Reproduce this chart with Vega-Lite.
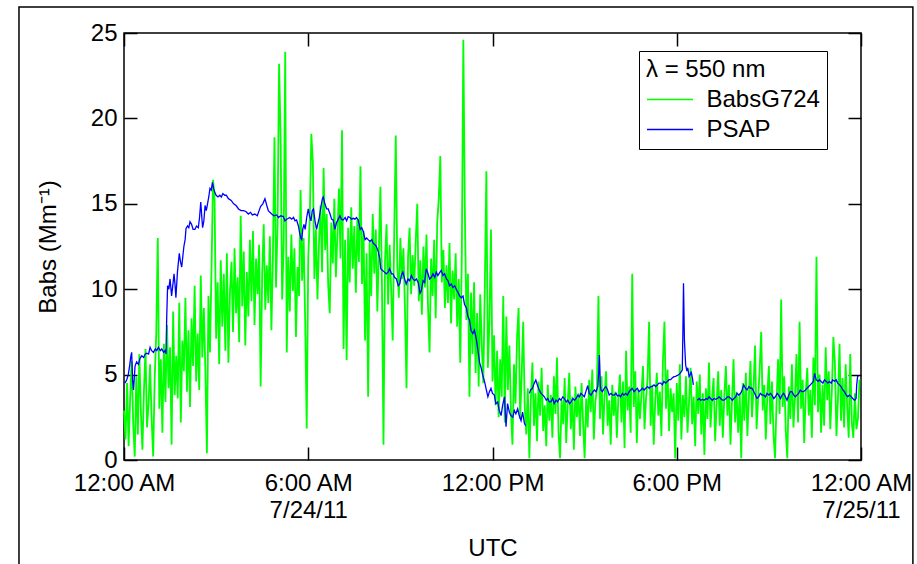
{
"$schema": "https://vega.github.io/schema/vega-lite/v6.json",
"width": 737, "height": 427,
"autosize": {"type": "none"},
"padding": {"left": 124, "top": 33, "right": 56, "bottom": 104},
"background": "white",
"config": {"font": "Liberation Sans", "view": {"stroke": "black", "strokeWidth": 1.5},
  "axis": {"grid": false, "domain": false, "tickColor": "black", "tickWidth": 1.5, "labelColor": "black", "titleColor": "black", "labelFontSize": 24, "titleFontSize": 24, "titleFontWeight": "normal", "labelFlush": false, "labelOverlap": false, "labelBound": false}},
"datasets": {
"green": [
{"h":0.00,"v":2.9},{"h":0.05,"v":1.2},{"h":0.10,"v":4.5},{"h":0.15,"v":0.8},{"h":0.20,"v":3.6},{"h":0.25,"v":5.8},{"h":0.30,"v":2.1},{"h":0.35,"v":0.2},{"h":0.40,"v":4.9},{"h":0.45,"v":1.5},
{"h":0.50,"v":6.2},{"h":0.55,"v":2.8},{"h":0.60,"v":0.6},{"h":0.65,"v":4.1},{"h":0.70,"v":6.5},{"h":0.75,"v":1.9},{"h":0.80,"v":3.3},{"h":0.85,"v":5.6},{"h":0.90,"v":2.4},{"h":0.95,"v":0.2},{"h":1.00,"v":4.8},{"h":1.05,"v":7.4},{"h":1.10,"v":13.0},{"h":1.15,"v":3.0},{"h":1.20,"v":5.9},{"h":1.25,"v":1.6},{"h":1.30,"v":6.8},{"h":1.35,"v":3.4},
{"h":1.40,"v":7.9},{"h":1.45,"v":4.2},{"h":1.50,"v":6.6},{"h":1.55,"v":0.9},{"h":1.60,"v":8.7},{"h":1.65,"v":3.8},{"h":1.70,"v":6.1},{"h":1.75,"v":3.6},{"h":1.80,"v":9.2},{"h":1.85,"v":2.2},{"h":1.90,"v":7.0},{"h":1.95,"v":5.2},{"h":2.00,"v":9.5},{"h":2.05,"v":4.0},{"h":2.10,"v":7.6},{"h":2.15,"v":3.1},{"h":2.20,"v":8.3},{"h":2.25,"v":5.5},{"h":2.30,"v":10.2},{"h":2.35,"v":4.6},
{"h":2.40,"v":7.4},{"h":2.45,"v":4.1},{"h":2.50,"v":10.8},{"h":2.55,"v":6.0},{"h":2.60,"v":8.9},{"h":2.65,"v":5.2},{"h":2.70,"v":0.4},{"h":2.75,"v":9.6},{"h":2.80,"v":6.3},{"h":2.85,"v":11.3},{"h":2.90,"v":16.4},{"h":2.95,"v":15.2},{"h":3.00,"v":7.1},{"h":3.05,"v":10.4},{"h":3.10,"v":5.6},{"h":3.15,"v":11.7},
{"h":3.20,"v":7.8},{"h":3.25,"v":10.9},{"h":3.30,"v":6.4},{"h":3.35,"v":12.1},{"h":3.40,"v":5.7},{"h":3.45,"v":9.8},{"h":3.50,"v":11.6},{"h":3.55,"v":7.5},{"h":3.60,"v":12.4},{"h":3.65,"v":8.6},{"h":3.70,"v":10.7},{"h":3.75,"v":6.9},{"h":3.80,"v":14.3},{"h":3.85,"v":9.0},{"h":3.90,"v":12.2},{"h":3.95,"v":6.7},
{"h":4.00,"v":11.0},{"h":4.05,"v":8.4},{"h":4.10,"v":12.9},{"h":4.15,"v":9.3},{"h":4.20,"v":13.4},{"h":4.25,"v":7.9},{"h":4.30,"v":11.8},{"h":4.35,"v":9.7},{"h":4.40,"v":12.6},{"h":4.45,"v":4.3},{"h":4.50,"v":10.9},{"h":4.55,"v":13.8},{"h":4.60,"v":8.8},{"h":4.65,"v":11.4},{"h":4.70,"v":9.2},{"h":4.75,"v":13.1},{"h":4.80,"v":7.6},{"h":4.85,"v":12.0},{"h":4.90,"v":18.9},{"h":4.95,"v":10.1},
{"h":5.00,"v":13.6},{"h":5.05,"v":23.2},{"h":5.10,"v":18.9},{"h":5.15,"v":9.4},{"h":5.20,"v":12.8},{"h":5.25,"v":23.9},{"h":5.30,"v":6.3},{"h":5.35,"v":11.9},{"h":5.40,"v":8.7},{"h":5.45,"v":13.2},{"h":5.50,"v":9.9},{"h":5.55,"v":12.4},{"h":5.60,"v":7.2},{"h":5.65,"v":11.3},{"h":5.70,"v":9.6},{"h":5.75,"v":15.8},{"h":5.80,"v":10.5},{"h":5.85,"v":13.0},{"h":5.90,"v":8.1},{"h":5.95,"v":1.85},
{"h":6.00,"v":11.8},{"h":6.05,"v":14.2},{"h":6.10,"v":19.1},{"h":6.15,"v":17.4},{"h":6.20,"v":10.6},{"h":6.25,"v":13.5},{"h":6.30,"v":9.4},{"h":6.35,"v":12.7},{"h":6.40,"v":14.9},{"h":6.45,"v":11.0},{"h":6.50,"v":17.1},{"h":6.55,"v":12.3},{"h":6.60,"v":14.4},{"h":6.65,"v":10.2},{"h":6.70,"v":8.6},{"h":6.75,"v":13.9},{"h":6.80,"v":11.5},{"h":6.85,"v":15.3},{"h":6.90,"v":10.7},{"h":6.95,"v":13.2},
{"h":7.00,"v":15.9},{"h":7.05,"v":11.8},{"h":7.10,"v":19.3},{"h":7.15,"v":6.5},{"h":7.20,"v":12.9},{"h":7.25,"v":5.85},{"h":7.30,"v":13.6},{"h":7.35,"v":10.4},{"h":7.40,"v":14.8},{"h":7.45,"v":11.2},{"h":7.50,"v":13.7},{"h":7.55,"v":9.8},{"h":7.60,"v":14.1},{"h":7.65,"v":11.6},{"h":7.70,"v":17.2},{"h":7.75,"v":10.3},{"h":7.80,"v":13.4},{"h":7.85,"v":7.0},{"h":7.90,"v":12.1},{"h":7.95,"v":3.7},
{"h":8.00,"v":12.8},{"h":8.05,"v":9.6},{"h":8.10,"v":14.4},{"h":8.15,"v":10.9},{"h":8.20,"v":13.5},{"h":8.25,"v":8.7},{"h":8.30,"v":12.2},{"h":8.35,"v":16.0},{"h":8.40,"v":10.3},{"h":8.45,"v":0.9},{"h":8.50,"v":11.7},{"h":8.55,"v":13.8},{"h":8.60,"v":9.1},{"h":8.65,"v":12.6},{"h":8.70,"v":10.0},{"h":8.75,"v":7.0},{"h":8.80,"v":13.3},{"h":8.85,"v":19.0},{"h":8.90,"v":11.4},{"h":8.95,"v":9.5},
{"h":9.00,"v":13.0},{"h":9.05,"v":10.6},{"h":9.10,"v":12.4},{"h":9.15,"v":8.8},{"h":9.20,"v":4.2},{"h":9.25,"v":11.9},{"h":9.30,"v":13.6},{"h":9.35,"v":9.7},{"h":9.40,"v":12.0},{"h":9.45,"v":10.2},
{"h":9.50,"v":12.8},{"h":9.55,"v":15.0},{"h":9.60,"v":9.3},{"h":9.65,"v":11.7},{"h":9.70,"v":8.5},{"h":9.75,"v":12.5},{"h":9.80,"v":10.1},{"h":9.85,"v":13.2},{"h":9.90,"v":9.0},{"h":9.95,"v":6.3},{"h":10.00,"v":11.8},{"h":10.05,"v":9.6},{"h":10.10,"v":12.9},{"h":10.15,"v":8.3},{"h":10.20,"v":13.9},{"h":10.25,"v":15.3},{"h":10.30,"v":17.8},{"h":10.35,"v":10.4},{"h":10.40,"v":12.3},{"h":10.45,"v":8.9},{"h":10.50,"v":11.4},{"h":10.55,"v":9.2},{"h":10.60,"v":12.7},{"h":10.65,"v":8.0},{"h":10.70,"v":11.1},{"h":10.75,"v":9.4},
{"h":10.80,"v":12.1},{"h":10.85,"v":7.8},{"h":10.90,"v":10.6},{"h":10.95,"v":5.7},{"h":11.00,"v":11.9},{"h":11.05,"v":24.6},{"h":11.10,"v":14.5},{"h":11.15,"v":8.2},{"h":11.20,"v":10.9},{"h":11.25,"v":3.7},
{"h":11.30,"v":9.8},{"h":11.35,"v":6.2},{"h":11.40,"v":10.4},{"h":11.45,"v":5.1},{"h":11.50,"v":8.6},{"h":11.55,"v":4.3},{"h":11.60,"v":9.7},{"h":11.65,"v":6.8},{"h":11.70,"v":4.5},{"h":11.75,"v":10.2},{"h":11.80,"v":16.9},{"h":11.85,"v":5.4},{"h":11.90,"v":8.1},{"h":11.95,"v":13.5},
{"h":12.00,"v":4.6},{"h":12.05,"v":7.3},{"h":12.10,"v":3.2},{"h":12.15,"v":6.4},{"h":12.20,"v":2.5},{"h":12.25,"v":5.9},{"h":12.30,"v":3.7},{"h":12.35,"v":9.6},{"h":12.40,"v":2.2},{"h":12.45,"v":8.4},{"h":12.50,"v":4.1},{"h":12.55,"v":6.7},{"h":12.60,"v":2.9},{"h":12.65,"v":0.9},{"h":12.70,"v":5.6},{"h":12.75,"v":3.3},{"h":12.80,"v":7.2},{"h":12.85,"v":8.9},{"h":12.90,"v":2.4},{"h":12.95,"v":5.0},{"h":13.00,"v":8.1},{"h":13.05,"v":3.1},
{"h":13.10,"v":1.5},{"h":13.15,"v":4.2},{"h":13.20,"v":0.1},{"h":13.25,"v":3.6},{"h":13.30,"v":5.7},{"h":13.35,"v":2.0},{"h":13.40,"v":3.9},{"h":13.45,"v":1.1},{"h":13.50,"v":4.6},{"h":13.55,"v":2.6},{"h":13.60,"v":5.4},{"h":13.65,"v":1.7},{"h":13.70,"v":3.2},{"h":13.75,"v":0.8},{"h":13.80,"v":4.4},{"h":13.85,"v":2.3},{"h":13.90,"v":3.8},{"h":13.95,"v":1.3},
{"h":14.00,"v":4.9},{"h":14.05,"v":2.7},{"h":14.10,"v":6.0},{"h":14.15,"v":1.6},{"h":14.20,"v":0.1},{"h":14.25,"v":3.5},{"h":14.30,"v":2.1},{"h":14.35,"v":4.8},{"h":14.40,"v":1.0},{"h":14.45,"v":3.3},{"h":14.50,"v":5.1},{"h":14.55,"v":1.8},{"h":14.60,"v":3.7},{"h":14.65,"v":0.6},{"h":14.70,"v":4.3},{"h":14.75,"v":2.5},{"h":14.80,"v":3.9},{"h":14.85,"v":1.4},{"h":14.90,"v":4.5},{"h":14.95,"v":2.2},
{"h":15.00,"v":0.1},{"h":15.05,"v":3.6},{"h":15.10,"v":1.9},{"h":15.15,"v":4.7},{"h":15.20,"v":2.8},{"h":15.25,"v":5.3},{"h":15.30,"v":1.2},{"h":15.35,"v":3.4},{"h":15.40,"v":4.1},{"h":15.45,"v":9.6},{"h":15.50,"v":2.4},{"h":15.55,"v":4.9},{"h":15.60,"v":1.5},{"h":15.65,"v":3.8},{"h":15.70,"v":5.2},{"h":15.75,"v":2.0},{"h":15.80,"v":3.5},{"h":15.85,"v":0.9},{"h":15.90,"v":4.4},{"h":15.95,"v":2.6},
{"h":16.00,"v":4.0},{"h":16.05,"v":1.3},{"h":16.10,"v":3.7},{"h":16.15,"v":5.0},{"h":16.20,"v":2.2},{"h":16.25,"v":4.6},{"h":16.30,"v":0.7},{"h":16.35,"v":6.4},{"h":16.40,"v":2.9},{"h":16.45,"v":4.3},{"h":16.50,"v":1.6},{"h":16.55,"v":10.9},{"h":16.60,"v":3.1},{"h":16.65,"v":5.2},{"h":16.70,"v":1.0},{"h":16.75,"v":4.1},{"h":16.80,"v":2.4},{"h":16.85,"v":3.8},{"h":16.90,"v":5.5},{"h":16.95,"v":1.8},
{"h":17.00,"v":3.6},{"h":17.05,"v":4.8},{"h":17.10,"v":8.1},{"h":17.15,"v":2.0},{"h":17.20,"v":4.4},{"h":17.25,"v":0.9},{"h":17.30,"v":3.5},{"h":17.35,"v":5.1},{"h":17.40,"v":2.6},{"h":17.45,"v":4.0},{"h":17.50,"v":1.4},{"h":17.55,"v":5.8},{"h":17.60,"v":8.1},{"h":17.65,"v":3.0},{"h":17.70,"v":5.3},{"h":17.75,"v":1.7},{"h":17.80,"v":4.2},{"h":17.85,"v":2.8},{"h":17.90,"v":3.9},{"h":17.95,"v":0.1},
{"h":18.00,"v":4.5},{"h":18.05,"v":2.3},{"h":18.10,"v":5.6},{"h":18.15,"v":1.2},{"h":18.20,"v":3.8},{"h":18.25,"v":2.5},{"h":18.30,"v":4.9},{"h":18.35,"v":1.6},{"h":18.40,"v":3.4},{"h":18.45,"v":5.4},{"h":18.50,"v":2.1},{"h":18.55,"v":3.7},{"h":18.60,"v":0.8},{"h":18.65,"v":4.6},{"h":18.70,"v":2.7},{"h":18.75,"v":5.0},{"h":18.80,"v":1.5},{"h":18.85,"v":3.9},{"h":18.90,"v":0.3},{"h":18.95,"v":4.2},
{"h":19.00,"v":2.4},{"h":19.05,"v":5.7},{"h":19.10,"v":1.9},{"h":19.15,"v":3.6},{"h":19.20,"v":4.8},{"h":19.25,"v":1.1},{"h":19.30,"v":3.3},{"h":19.35,"v":5.2},{"h":19.40,"v":2.0},{"h":19.45,"v":4.1},{"h":19.50,"v":1.3},{"h":19.55,"v":3.8},{"h":19.60,"v":5.5},{"h":19.65,"v":2.6},{"h":19.70,"v":4.4},{"h":19.75,"v":0.9},{"h":19.80,"v":3.5},{"h":19.85,"v":5.9},{"h":19.90,"v":2.2},{"h":19.95,"v":4.0},
{"h":20.00,"v":1.6},{"h":20.05,"v":3.9},{"h":20.10,"v":0.1},{"h":20.15,"v":4.5},{"h":20.20,"v":2.3},{"h":20.25,"v":5.1},{"h":20.30,"v":1.4},{"h":20.35,"v":3.7},{"h":20.40,"v":5.8},{"h":20.45,"v":2.5},{"h":20.50,"v":4.2},{"h":20.55,"v":6.7},{"h":20.60,"v":1.8},{"h":20.65,"v":3.6},{"h":20.70,"v":5.3},{"h":20.75,"v":7.5},{"h":20.80,"v":2.9},{"h":20.85,"v":4.4},{"h":20.90,"v":1.2},{"h":20.95,"v":3.8},
{"h":21.00,"v":5.5},{"h":21.05,"v":2.1},{"h":21.10,"v":4.6},{"h":21.15,"v":1.5},{"h":21.20,"v":0.1},{"h":21.25,"v":3.4},{"h":21.30,"v":5.9},{"h":21.35,"v":2.7},{"h":21.40,"v":9.4},{"h":21.45,"v":3.1},{"h":21.50,"v":4.9},{"h":21.55,"v":1.7},{"h":21.60,"v":0.1},{"h":21.65,"v":4.3},{"h":21.70,"v":2.4},{"h":21.75,"v":5.6},{"h":21.80,"v":1.9},{"h":21.85,"v":3.7},{"h":21.90,"v":6.2},{"h":21.95,"v":2.2},
{"h":22.00,"v":8.1},{"h":22.05,"v":3.0},{"h":22.10,"v":4.7},{"h":22.15,"v":1.0},{"h":22.20,"v":3.9},{"h":22.25,"v":5.4},{"h":22.30,"v":2.6},{"h":22.35,"v":4.1},{"h":22.40,"v":1.3},{"h":22.45,"v":6.0},{"h":22.50,"v":3.2},{"h":22.55,"v":11.9},{"h":22.60,"v":2.8},{"h":22.65,"v":5.0},{"h":22.70,"v":1.6},{"h":22.75,"v":4.4},{"h":22.80,"v":2.0},{"h":22.85,"v":6.6},{"h":22.90,"v":3.5},{"h":22.95,"v":5.2},
{"h":23.00,"v":1.8},{"h":23.05,"v":4.0},{"h":23.10,"v":7.2},{"h":23.15,"v":5.7},{"h":23.20,"v":1.4},{"h":23.25,"v":3.6},{"h":23.30,"v":6.8},{"h":23.35,"v":2.3},{"h":23.40,"v":4.8},{"h":23.45,"v":1.9},{"h":23.50,"v":5.6},{"h":23.55,"v":3.1},{"h":23.60,"v":1.3},{"h":23.65,"v":6.2},{"h":23.70,"v":2.2},{"h":23.75,"v":1.3},{"h":23.80,"v":3.9},{"h":23.85,"v":1.8},{"h":23.90,"v":2.4},{"h":23.95,"v":4.7}
],
"blue": [
{"g":1,"h":0.03,"v":4.5},{"g":1,"h":0.09,"v":4.7},{"g":1,"h":0.14,"v":5.0},{"g":1,"h":0.19,"v":5.6},{"g":1,"h":0.22,"v":6.05},{"g":1,"h":0.25,"v":6.3},{"g":1,"h":0.28,"v":4.7},{"g":1,"h":0.31,"v":4.1},{"g":1,"h":0.36,"v":5.5},{"g":1,"h":0.41,"v":5.75},{"g":1,"h":0.47,"v":5.6},{"g":1,"h":0.52,"v":5.95},{"g":1,"h":0.58,"v":6.1},{"g":1,"h":0.64,"v":6.0},{"g":1,"h":0.69,"v":6.2},{"g":1,"h":0.74,"v":6.25},{"g":1,"h":0.80,"v":6.2},{"g":1,"h":0.85,"v":6.6},{"g":1,"h":0.90,"v":6.4},{"g":1,"h":0.96,"v":6.3},
{"g":1,"h":1.02,"v":6.5},{"g":1,"h":1.07,"v":6.4},{"g":1,"h":1.12,"v":6.6},{"g":1,"h":1.18,"v":6.4},{"g":1,"h":1.23,"v":6.5},{"g":1,"h":1.29,"v":6.3},{"g":1,"h":1.34,"v":6.4},{"g":1,"h":1.37,"v":6.2},{"g":1,"h":1.39,"v":8.3},{"g":1,"h":1.42,"v":10.2},{"g":1,"h":1.46,"v":10.0},{"g":1,"h":1.50,"v":10.6},{"g":1,"h":1.55,"v":9.6},{"g":1,"h":1.60,"v":10.4},{"g":1,"h":1.63,"v":10.9},{"g":1,"h":1.66,"v":10.3},{"g":1,"h":1.69,"v":9.5},{"g":1,"h":1.74,"v":11.0},{"g":1,"h":1.80,"v":12.1},{"g":1,"h":1.84,"v":11.6},
{"g":1,"h":1.88,"v":11.3},{"g":1,"h":1.92,"v":12.0},{"g":1,"h":1.95,"v":12.5},{"g":1,"h":1.99,"v":12.9},{"g":1,"h":2.02,"v":13.56},{"g":1,"h":2.07,"v":13.7},{"g":1,"h":2.11,"v":13.6},{"g":1,"h":2.15,"v":13.95},{"g":1,"h":2.20,"v":13.8},{"g":1,"h":2.25,"v":13.5},{"g":1,"h":2.31,"v":13.5},{"g":1,"h":2.36,"v":13.7},{"g":1,"h":2.42,"v":13.6},{"g":1,"h":2.46,"v":14.2},{"g":1,"h":2.50,"v":15.1},{"g":1,"h":2.53,"v":14.3},{"g":1,"h":2.56,"v":13.6},{"g":1,"h":2.60,"v":14.0},{"g":1,"h":2.64,"v":14.9},{"g":1,"h":2.68,"v":14.6},
{"g":1,"h":2.72,"v":15.0},{"g":1,"h":2.76,"v":15.4},{"g":1,"h":2.80,"v":15.9},{"g":1,"h":2.84,"v":15.8},{"g":1,"h":2.88,"v":16.26},{"g":1,"h":2.92,"v":15.9},{"g":1,"h":2.95,"v":15.7},{"g":1,"h":3.00,"v":15.5},{"g":1,"h":3.06,"v":15.4},{"g":1,"h":3.12,"v":15.5},{"g":1,"h":3.17,"v":15.4},{"g":1,"h":3.22,"v":15.6},{"g":1,"h":3.28,"v":15.5},{"g":1,"h":3.33,"v":15.5},{"g":1,"h":3.40,"v":15.3},{"g":1,"h":3.49,"v":15.2},{"g":1,"h":3.57,"v":15.0},{"g":1,"h":3.65,"v":14.9},{"g":1,"h":3.73,"v":14.7},{"g":1,"h":3.81,"v":14.6},
{"g":1,"h":3.89,"v":14.6},{"g":1,"h":3.97,"v":14.55},{"g":1,"h":4.05,"v":14.4},{"g":1,"h":4.12,"v":14.5},{"g":1,"h":4.18,"v":14.35},{"g":1,"h":4.26,"v":14.4},{"g":1,"h":4.34,"v":14.3},{"g":1,"h":4.40,"v":14.6},{"g":1,"h":4.45,"v":14.85},{"g":1,"h":4.52,"v":15.0},{"g":1,"h":4.59,"v":15.3},{"g":1,"h":4.65,"v":14.9},{"g":1,"h":4.70,"v":14.6},{"g":1,"h":4.75,"v":14.5},{"g":1,"h":4.81,"v":14.4},{"g":1,"h":4.88,"v":14.3},{"g":1,"h":4.97,"v":14.35},{"g":1,"h":5.03,"v":14.2},{"g":1,"h":5.10,"v":14.3},{"g":1,"h":5.19,"v":14.25},
{"g":1,"h":5.24,"v":14.0},{"g":1,"h":5.30,"v":14.1},{"g":1,"h":5.40,"v":14.2},{"g":1,"h":5.46,"v":14.1},{"g":1,"h":5.52,"v":14.2},{"g":1,"h":5.57,"v":14.0},{"g":1,"h":5.62,"v":14.05},{"g":1,"h":5.68,"v":13.7},{"g":1,"h":5.72,"v":13.3},{"g":1,"h":5.76,"v":12.98},{"g":1,"h":5.79,"v":12.9},{"g":1,"h":5.82,"v":13.5},{"g":1,"h":5.86,"v":13.8},{"g":1,"h":5.90,"v":13.5},{"g":1,"h":5.95,"v":14.2},{"g":1,"h":6.00,"v":14.7},{"g":1,"h":6.04,"v":14.3},{"g":1,"h":6.09,"v":14.0},{"g":1,"h":6.13,"v":14.6},{"g":1,"h":6.17,"v":14.7},
{"g":1,"h":6.22,"v":14.0},{"g":1,"h":6.27,"v":13.5},{"g":1,"h":6.32,"v":13.9},{"g":1,"h":6.36,"v":14.2},{"g":1,"h":6.42,"v":14.9},{"g":1,"h":6.46,"v":15.3},{"g":1,"h":6.49,"v":15.4},{"g":1,"h":6.54,"v":15.0},{"g":1,"h":6.60,"v":14.7},{"g":1,"h":6.65,"v":14.7},{"g":1,"h":6.71,"v":14.4},{"g":1,"h":6.76,"v":14.1},{"g":1,"h":6.81,"v":14.05},{"g":1,"h":6.87,"v":13.5},{"g":1,"h":6.92,"v":13.9},{"g":1,"h":6.98,"v":14.1},{"g":1,"h":7.03,"v":14.3},{"g":1,"h":7.08,"v":14.1},{"g":1,"h":7.14,"v":14.05},{"g":1,"h":7.20,"v":14.2},
{"g":1,"h":7.25,"v":14.0},{"g":1,"h":7.30,"v":14.25},{"g":1,"h":7.36,"v":14.2},{"g":1,"h":7.41,"v":14.1},{"g":1,"h":7.47,"v":14.15},{"g":1,"h":7.52,"v":14.1},{"g":1,"h":7.57,"v":14.2},{"g":1,"h":7.63,"v":14.05},{"g":1,"h":7.69,"v":13.5},{"g":1,"h":7.74,"v":13.6},{"g":1,"h":7.79,"v":13.4},{"g":1,"h":7.85,"v":12.9},{"g":1,"h":7.90,"v":13.0},{"g":1,"h":7.95,"v":12.9},{"g":1,"h":8.01,"v":12.8},{"g":1,"h":8.07,"v":12.9},{"g":1,"h":8.11,"v":12.7},{"g":1,"h":8.17,"v":12.6},{"g":1,"h":8.22,"v":12.5},{"g":1,"h":8.28,"v":12.2},
{"g":1,"h":8.33,"v":11.8},{"g":1,"h":8.36,"v":11.2},{"g":1,"h":8.42,"v":11.1},{"g":1,"h":8.48,"v":11.0},{"g":1,"h":8.54,"v":10.9},{"g":1,"h":8.60,"v":11.0},{"g":1,"h":8.65,"v":11.2},{"g":1,"h":8.71,"v":10.9},{"g":1,"h":8.76,"v":10.9},{"g":1,"h":8.81,"v":10.7},{"g":1,"h":8.87,"v":10.6},{"g":1,"h":8.93,"v":10.2},{"g":1,"h":8.98,"v":10.3},{"g":1,"h":9.03,"v":10.8},{"g":1,"h":9.08,"v":11.0},{"g":1,"h":9.14,"v":10.6},{"g":1,"h":9.19,"v":10.3},{"g":1,"h":9.25,"v":10.6},{"g":1,"h":9.30,"v":10.5},{"g":1,"h":9.36,"v":10.8},
{"g":1,"h":9.41,"v":10.6},{"g":1,"h":9.47,"v":10.5},{"g":1,"h":9.52,"v":10.6},{"g":1,"h":9.58,"v":10.4},{"g":1,"h":9.64,"v":9.76},{"g":1,"h":9.68,"v":9.9},{"g":1,"h":9.74,"v":10.5},{"g":1,"h":9.79,"v":10.4},{"g":1,"h":9.84,"v":11.2},{"g":1,"h":9.90,"v":10.9},{"g":1,"h":9.95,"v":10.6},{"g":1,"h":10.01,"v":10.7},{"g":1,"h":10.06,"v":10.9},{"g":1,"h":10.12,"v":10.7},{"g":1,"h":10.17,"v":11.0},{"g":1,"h":10.22,"v":10.8},{"g":1,"h":10.29,"v":11.0},{"g":1,"h":10.33,"v":11.1},{"g":1,"h":10.39,"v":10.8},{"g":1,"h":10.44,"v":10.9},
{"g":1,"h":10.50,"v":10.6},{"g":1,"h":10.55,"v":10.5},{"g":1,"h":10.60,"v":10.2},{"g":1,"h":10.66,"v":10.3},{"g":1,"h":10.71,"v":10.1},{"g":1,"h":10.77,"v":10.2},{"g":1,"h":10.82,"v":10.0},{"g":1,"h":10.88,"v":9.8},{"g":1,"h":10.93,"v":9.6},{"g":1,"h":10.98,"v":9.5},{"g":1,"h":11.04,"v":9.6},{"g":1,"h":11.09,"v":9.1},{"g":1,"h":11.15,"v":8.9},{"g":1,"h":11.20,"v":8.4},{"g":1,"h":11.25,"v":8.2},{"g":1,"h":11.30,"v":7.6},{"g":1,"h":11.36,"v":7.4},{"g":1,"h":11.41,"v":7.6},{"g":1,"h":11.47,"v":7.1},{"g":1,"h":11.52,"v":6.5},
{"g":1,"h":11.58,"v":5.7},{"g":1,"h":11.63,"v":5.4},{"g":1,"h":11.69,"v":4.9},{"g":1,"h":11.74,"v":4.6},{"g":1,"h":11.80,"v":4.1},{"g":1,"h":11.85,"v":3.7},{"g":1,"h":11.90,"v":4.0},{"g":1,"h":11.95,"v":4.2},{"g":1,"h":12.00,"v":3.9},{"g":1,"h":12.06,"v":3.8},{"g":1,"h":12.11,"v":3.3},{"g":1,"h":12.17,"v":3.4},{"g":1,"h":12.22,"v":2.9},{"g":1,"h":12.28,"v":2.6},{"g":1,"h":12.33,"v":3.2},{"g":1,"h":12.39,"v":3.7},{"g":1,"h":12.44,"v":1.95},{"g":1,"h":12.49,"v":3.3},{"g":1,"h":12.55,"v":2.8},{"g":1,"h":12.60,"v":2.6},
{"g":1,"h":12.66,"v":2.5},{"g":1,"h":12.71,"v":2.9},{"g":1,"h":12.76,"v":2.7},{"g":1,"h":12.82,"v":3.0},{"g":1,"h":12.87,"v":2.6},{"g":1,"h":12.93,"v":2.3},{"g":1,"h":12.98,"v":2.8},{"g":1,"h":13.04,"v":2.15},{"g":1,"h":13.08,"v":2.0},
{"g":2,"h":13.20,"v":3.9},{"g":2,"h":13.24,"v":4.1},{"g":2,"h":13.30,"v":4.2},{"g":2,"h":13.36,"v":4.5},{"g":2,"h":13.41,"v":4.68},{"g":2,"h":13.46,"v":4.4},{"g":2,"h":13.52,"v":4.1},{"g":2,"h":13.58,"v":3.9},{"g":2,"h":13.64,"v":3.8},{"g":2,"h":13.69,"v":3.7},{"g":2,"h":13.75,"v":3.5},{"g":2,"h":13.80,"v":3.6},{"g":2,"h":13.85,"v":3.4},{"g":2,"h":13.90,"v":3.4},{"g":2,"h":13.96,"v":3.6},{"g":2,"h":14.01,"v":3.3},{"g":2,"h":14.07,"v":3.5},{"g":2,"h":14.12,"v":3.4},{"g":2,"h":14.18,"v":3.6},{"g":2,"h":14.23,"v":3.5},
{"g":2,"h":14.29,"v":3.7},{"g":2,"h":14.34,"v":3.6},{"g":2,"h":14.40,"v":3.4},{"g":2,"h":14.45,"v":3.5},{"g":2,"h":14.51,"v":3.3},{"g":2,"h":14.56,"v":3.4},{"g":2,"h":14.62,"v":3.6},{"g":2,"h":14.67,"v":3.5},{"g":2,"h":14.72,"v":3.6},{"g":2,"h":14.78,"v":3.8},{"g":2,"h":14.83,"v":3.7},{"g":2,"h":14.88,"v":3.9},{"g":2,"h":14.94,"v":3.8},{"g":2,"h":14.99,"v":3.7},{"g":2,"h":15.04,"v":4.0},{"g":2,"h":15.10,"v":4.35},{"g":2,"h":15.15,"v":3.9},{"g":2,"h":15.21,"v":3.8},{"g":2,"h":15.27,"v":4.0},{"g":2,"h":15.32,"v":4.1},
{"g":2,"h":15.37,"v":4.0},{"g":2,"h":15.43,"v":4.3},{"g":2,"h":15.46,"v":5.2},{"g":2,"h":15.48,"v":6.15},{"g":2,"h":15.51,"v":4.4},{"g":2,"h":15.53,"v":4.1},{"g":2,"h":15.58,"v":4.0},{"g":2,"h":15.64,"v":4.2},{"g":2,"h":15.69,"v":4.3},{"g":2,"h":15.75,"v":4.1},{"g":2,"h":15.80,"v":3.8},{"g":2,"h":15.86,"v":3.9},{"g":2,"h":15.91,"v":3.8},{"g":2,"h":15.96,"v":3.8},{"g":2,"h":16.02,"v":3.9},{"g":2,"h":16.07,"v":3.75},{"g":2,"h":16.12,"v":3.8},{"g":2,"h":16.17,"v":3.7},{"g":2,"h":16.23,"v":3.9},{"g":2,"h":16.28,"v":3.8},
{"g":2,"h":16.34,"v":3.9},{"g":2,"h":16.39,"v":3.8},{"g":2,"h":16.45,"v":4.0},{"g":2,"h":16.50,"v":4.1},{"g":2,"h":16.55,"v":4.2},{"g":2,"h":16.61,"v":4.0},{"g":2,"h":16.66,"v":4.1},{"g":2,"h":16.72,"v":4.2},{"g":2,"h":16.77,"v":4.0},{"g":2,"h":16.83,"v":4.1},{"g":2,"h":16.88,"v":4.2},{"g":2,"h":16.94,"v":4.1},{"g":2,"h":16.99,"v":4.2},{"g":2,"h":17.05,"v":4.3},{"g":2,"h":17.10,"v":4.2},{"g":2,"h":17.15,"v":4.3},{"g":2,"h":17.20,"v":4.3},{"g":2,"h":17.26,"v":4.4},{"g":2,"h":17.31,"v":4.3},{"g":2,"h":17.37,"v":4.4},
{"g":2,"h":17.42,"v":4.5},{"g":2,"h":17.48,"v":4.5},{"g":2,"h":17.53,"v":4.4},{"g":2,"h":17.58,"v":4.6},{"g":2,"h":17.64,"v":4.5},{"g":2,"h":17.69,"v":4.6},{"g":2,"h":17.75,"v":4.7},{"g":2,"h":17.80,"v":4.7},{"g":2,"h":17.85,"v":4.8},{"g":2,"h":17.91,"v":4.88},{"g":2,"h":17.96,"v":4.9},{"g":2,"h":18.02,"v":4.95},{"g":2,"h":18.07,"v":5.0},{"g":2,"h":18.12,"v":5.1},{"g":2,"h":18.18,"v":5.27},{"g":2,"h":18.20,"v":7.5},{"g":2,"h":18.22,"v":10.35},{"g":2,"h":18.25,"v":7.0},{"g":2,"h":18.29,"v":5.56},{"g":2,"h":18.33,"v":5.2},
{"g":2,"h":18.36,"v":5.4},{"g":2,"h":18.40,"v":4.88},{"g":2,"h":18.44,"v":5.0},{"g":2,"h":18.47,"v":5.17},{"g":2,"h":18.51,"v":4.8},{"g":2,"h":18.54,"v":4.4},
{"g":3,"h":18.67,"v":3.5},{"g":3,"h":18.73,"v":3.6},{"g":3,"h":18.78,"v":3.5},{"g":3,"h":18.84,"v":3.55},{"g":3,"h":18.89,"v":3.5},{"g":3,"h":18.95,"v":3.6},{"g":3,"h":19.00,"v":3.55},{"g":3,"h":19.05,"v":3.7},{"g":3,"h":19.10,"v":3.6},{"g":3,"h":19.16,"v":3.5},{"g":3,"h":19.21,"v":3.6},{"g":3,"h":19.27,"v":3.55},{"g":3,"h":19.32,"v":3.6},{"g":3,"h":19.38,"v":3.7},{"g":3,"h":19.43,"v":3.6},{"g":3,"h":19.49,"v":3.5},{"g":3,"h":19.54,"v":3.5},{"g":3,"h":19.60,"v":3.6},{"g":3,"h":19.65,"v":3.7},{"g":3,"h":19.70,"v":3.7},
{"g":3,"h":19.76,"v":3.6},{"g":3,"h":19.81,"v":3.5},{"g":3,"h":19.86,"v":3.6},{"g":3,"h":19.92,"v":3.7},{"g":3,"h":19.96,"v":3.9},{"g":3,"h":20.02,"v":3.8},{"g":3,"h":20.08,"v":3.9},{"g":3,"h":20.13,"v":4.1},{"g":3,"h":20.18,"v":4.4},{"g":3,"h":20.24,"v":4.2},{"g":3,"h":20.29,"v":4.1},{"g":3,"h":20.35,"v":4.3},{"g":3,"h":20.40,"v":4.2},{"g":3,"h":20.45,"v":4.2},{"g":3,"h":20.51,"v":4.0},{"g":3,"h":20.56,"v":3.8},{"g":3,"h":20.61,"v":3.6},{"g":3,"h":20.67,"v":3.7},{"g":3,"h":20.72,"v":3.9},{"g":3,"h":20.78,"v":3.8},
{"g":3,"h":20.83,"v":3.8},{"g":3,"h":20.89,"v":3.7},{"g":3,"h":20.94,"v":3.9},{"g":3,"h":21.00,"v":3.8},{"g":3,"h":21.05,"v":3.9},{"g":3,"h":21.10,"v":3.8},{"g":3,"h":21.16,"v":3.6},{"g":3,"h":21.21,"v":3.7},{"g":3,"h":21.27,"v":3.9},{"g":3,"h":21.32,"v":3.8},{"g":3,"h":21.38,"v":3.6},{"g":3,"h":21.43,"v":3.8},{"g":3,"h":21.48,"v":3.9},{"g":3,"h":21.54,"v":3.7},{"g":3,"h":21.59,"v":3.5},{"g":3,"h":21.65,"v":3.8},{"g":3,"h":21.70,"v":4.0},{"g":3,"h":21.75,"v":4.0},{"g":3,"h":21.81,"v":3.8},{"g":3,"h":21.86,"v":3.7},
{"g":3,"h":21.91,"v":3.8},{"g":3,"h":21.97,"v":3.9},{"g":3,"h":22.02,"v":4.1},{"g":3,"h":22.08,"v":4.0},{"g":3,"h":22.13,"v":4.0},{"g":3,"h":22.19,"v":4.1},{"g":3,"h":22.24,"v":4.2},{"g":3,"h":22.30,"v":4.3},{"g":3,"h":22.35,"v":4.4},{"g":3,"h":22.40,"v":4.5},{"g":3,"h":22.45,"v":4.6},{"g":3,"h":22.49,"v":5.07},{"g":3,"h":22.54,"v":4.7},{"g":3,"h":22.60,"v":4.6},{"g":3,"h":22.65,"v":4.7},{"g":3,"h":22.70,"v":4.6},{"g":3,"h":22.76,"v":4.5},{"g":3,"h":22.81,"v":4.7},{"g":3,"h":22.87,"v":4.6},{"g":3,"h":22.92,"v":4.5},
{"g":3,"h":22.97,"v":4.6},{"g":3,"h":23.03,"v":4.5},{"g":3,"h":23.08,"v":4.7},{"g":3,"h":23.14,"v":4.6},{"g":3,"h":23.19,"v":4.7},{"g":3,"h":23.24,"v":4.5},{"g":3,"h":23.30,"v":4.4},{"g":3,"h":23.35,"v":4.3},{"g":3,"h":23.41,"v":4.1},{"g":3,"h":23.46,"v":4.0},{"g":3,"h":23.52,"v":3.8},{"g":3,"h":23.57,"v":3.7},{"g":3,"h":23.62,"v":3.8},{"g":3,"h":23.68,"v":3.7},{"g":3,"h":23.73,"v":3.6},{"g":3,"h":23.79,"v":3.5},{"g":3,"h":23.84,"v":3.6},{"g":3,"h":23.86,"v":4.4},{"g":3,"h":23.89,"v":4.9},{"g":3,"h":23.92,"v":4.9}
]
},
"resolve": {"axis": {"x": "independent", "y": "independent"}},
"layer": [
 {
  "layer": [
   {
    "data": {"values": [{}]},
    "mark": {"type": "rect", "fill": null, "stroke": "black", "strokeWidth": 1.5, "clip": false},
    "encoding": {
      "x": {"datum": -3.42, "type": "quantitative"},
      "x2": {"datum": 25.69},
      "y": {"datum": 26.52, "type": "quantitative"},
      "y2": {"datum": -7.0}
    }
   },
   {
    "data": {"name": "green"},
    "mark": {"type": "line", "strokeWidth": 1.8, "clip": false},
    "encoding": {
      "x": {"field": "h", "type": "quantitative", "scale": {"domain": [0, 24], "nice": false, "zero": false},
        "axis": {"orient": "bottom", "values": [0, 6, 12, 18, 24], "tickSize": -13, "labelPadding": 24, "labelLineHeight": 27,
          "labelExpr": "datum.value == 0 ? '12:00 AM' : datum.value == 6 ? ['6:00 AM', '7/24/11'] : datum.value == 12 ? '12:00 PM' : datum.value == 18 ? '6:00 PM' : ['12:00 AM', '7/25/11']",
          "title": "UTC", "titlePadding": 14}},
      "y": {"field": "v", "type": "quantitative", "scale": {"domain": [0, 25], "nice": false, "zero": false},
        "axis": {"orient": "left", "values": [0, 5, 10, 15, 20, 25], "tickSize": -13, "labelPadding": 20, "title": "Babs (Mm⁻¹)", "titlePadding": 30}},
      "color": {"datum": "BabsG724", "type": "nominal",
        "scale": {"domain": ["BabsG724", "PSAP"], "range": ["#00ff00", "#0000ff"]},
        "legend": {"orient": "none", "legendX": 515, "legendY": 18, "title": "λ = 550 nm", "titleFontSize": 24, "titleFontWeight": "normal", "titleColor": "black", "titlePadding": 5,
          "labelFontSize": 24, "labelColor": "black", "strokeColor": "black", "fillColor": "white", "padding": 7,
          "symbolType": "M-2,0H2", "symbolSize": 529, "symbolStrokeWidth": 1.5, "symbolOffset": 11.5, "labelOffset": 24, "rowPadding": 5}}
    }
   }
  ]
 },
 {
  "data": {"name": "blue"},
  "mark": {"type": "line", "strokeWidth": 1.3, "clip": false},
  "encoding": {
    "x": {"field": "h", "type": "quantitative", "scale": {"domain": [0, 24], "nice": false, "zero": false},
      "axis": {"orient": "top", "values": [0, 6, 12, 18, 24], "tickSize": -13, "labels": false, "title": null}},
    "y": {"field": "v", "type": "quantitative", "scale": {"domain": [0, 25], "nice": false, "zero": false},
      "axis": {"orient": "right", "values": [0, 5, 10, 15, 20, 25], "tickSize": -13, "labels": false, "title": null}},
    "detail": {"field": "g", "type": "nominal"},
    "color": {"datum": "PSAP", "type": "nominal"}
  }
 }
]
}
